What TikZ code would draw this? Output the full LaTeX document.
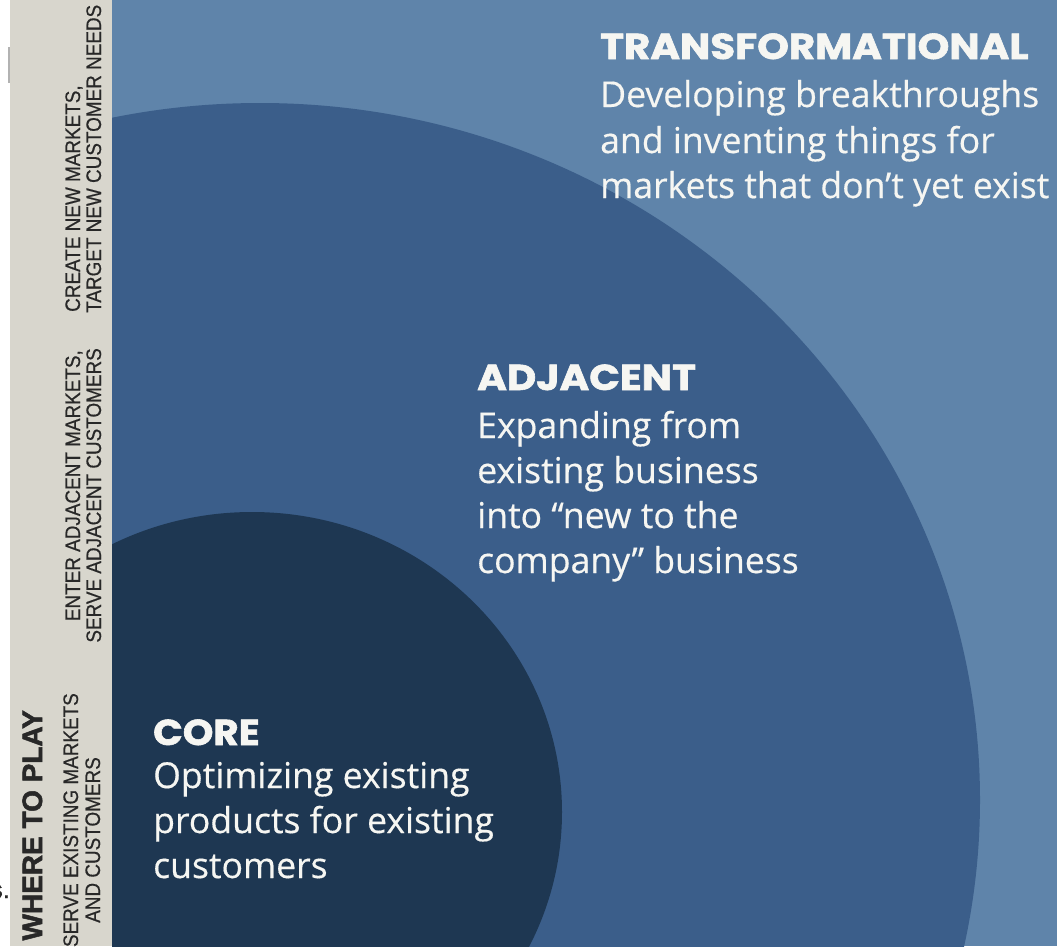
\documentclass[tikz,border=0pt]{standalone}
\usepackage{fontspec}
\setmainfont{Open Sans}[FakeBold=0.4]
\newfontfamily\headfont{Poppins}[FakeBold=1.6]
\newfontfamily\sidefont{Liberation Sans}[FakeBold=0.5]
\newfontfamily\sideboldfont{Liberation Sans}[FakeBold=1.8]
\definecolor{stripbg}{RGB}{216,214,205}
\definecolor{outerblue}{RGB}{95,132,170}
\definecolor{midblue}{RGB}{59,94,138}
\definecolor{deepblue}{RGB}{30,55,82}
\definecolor{sidetext}{RGB}{40,40,40}
\definecolor{whitetext}{RGB}{246,246,242}
\tikzset{
  headtext/.style={inner sep=0pt, anchor=base west, text=whitetext, font=\headfont\bfseries\fontsize{36}{40}\selectfont},
  bodytext/.style={inner sep=0pt, anchor=base west, text=whitetext, font=\fontsize{35.6}{40}\selectfont},
  sidesmall/.style={inner sep=0pt, rotate=90, text=sidetext, font=\sidefont\fontsize{21}{24}\selectfont},
  sidebig/.style={inner sep=0pt, rotate=90, text=sidetext, font=\sideboldfont\bfseries\fontsize{28}{30}\selectfont},
}
\newcommand{\narrowtext}[1]{\scalebox{0.9}[1]{#1}}
\newcommand{\widehead}[1]{\scalebox{1.12}[1]{#1}}
\begin{document}
\begin{tikzpicture}[x=1pt,y=-1pt]
\useasboundingbox (0,0) rectangle (1057,946);
\fill[white] (0,0) rectangle (1057,946);
\fill[stripbg] (10,0) rectangle (112,946);
\fill[gray!60] (8,47) rectangle (10,83);
\fill[outerblue] (112,0) rectangle (1057,946);
\begin{scope}
  \clip (112,0) rectangle (1057,946);
  \fill[midblue] (260,800) ellipse [x radius=720pt, y radius=697pt];
  \fill[deepblue] (252,812) ellipse [x radius=310pt, y radius=300pt];
\end{scope}

% Transformational
\node[headtext] (th) at (600,59) {\widehead{TRANSFORMATIONAL}};
\node[bodytext] (t1) at (600,107) {Developing breakthroughs};
\node[bodytext] (t2) at (600,153) {and inventing things for};
\node[bodytext] (t3) at (600,198) {markets that don’t yet exist};

% Adjacent
\node[headtext] (ah) at (477,390) {\widehead{ADJACENT}};
\node[bodytext] (a1) at (477,438) {Expanding from};
\node[bodytext] (a2) at (477,483) {existing business};
\node[bodytext] (a3) at (477,528) {into “new to the};
\node[bodytext] (a4) at (477,573) {company” business};

% Core
\node[headtext] (ch) at (153,745) {\scalebox{1.08}[1]{CORE}};
\node[bodytext] (c1) at (153,788) {Optimizing existing};
\node[bodytext] (c2) at (153,833) {products for existing};
\node[bodytext] (c3) at (153,878) {customers};

% Left strip
\node[sidesmall, anchor=base west] (s1) at (80,312) {\narrowtext{CREATE NEW MARKETS,}};
\node[sidesmall, anchor=base west] (s2) at (101,313) {\narrowtext{TARGET NEW CUSTOMER NEEDS}};
\node[sidesmall, anchor=base east] (s3) at (80,350) {\narrowtext{ENTER ADJACENT MARKETS,}};
\node[sidesmall, anchor=base east] (s4) at (101,348) {\narrowtext{SERVE ADJACENT CUSTOMERS}};
\node[sidesmall, anchor=base east] (s5) at (78,693) {\narrowtext{SERVE EXISTING MARKETS}};
\node[sidesmall, anchor=base east] (s6) at (100,757) {\narrowtext{AND CUSTOMERS}};
\node[sidebig, anchor=base east] (wp) at (42,710) {WHERE TO PLAY};

\node[inner sep=0pt, anchor=base east, text=sidetext, font=\sidefont\fontsize{25}{28}\selectfont] (st) at (10,898) {s.};
\end{tikzpicture}
\end{document}
